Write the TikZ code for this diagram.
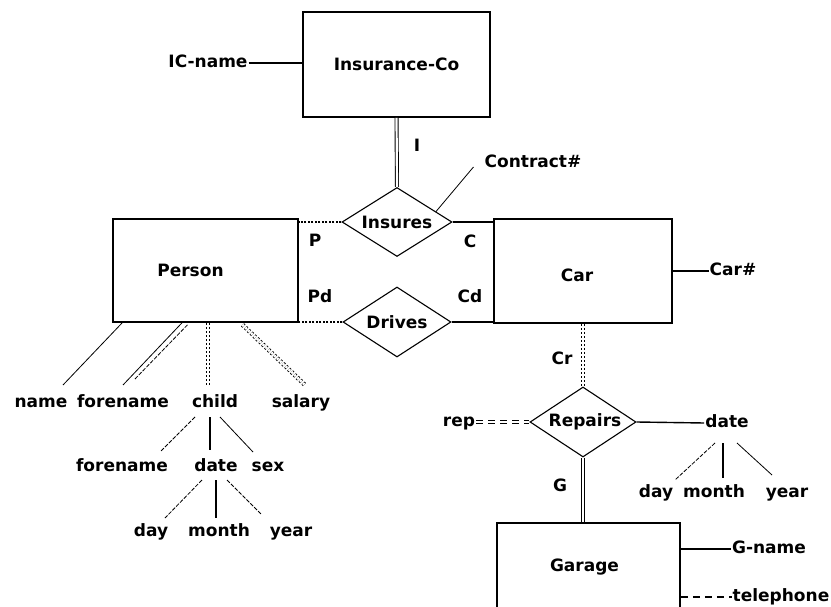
\documentclass[tikz,border=0pt]{standalone}
\usepackage{fontspec}
\setmainfont{DejaVu Sans}
\usetikzlibrary{shapes.geometric}
\begin{document}
\begin{tikzpicture}[x=1pt,y=-1pt,
  every node/.style={font=\fontsize{17}{20}\selectfont\bfseries},
  entity/.style={draw, line width=1.6pt, rectangle, inner sep=0pt},
  relation/.style={draw, diamond, line width=1.1pt, inner sep=0pt},
  attr/.style={inner sep=1pt, text height=12.5pt, text depth=3.5pt},
  conn/.style={line width=1.4pt},
  fine/.style={line width=0.8pt},
  fined/.style={line width=0.8pt, dash pattern=on 4pt off 1.5pt},
  dotline/.style={line width=1.4pt, dash pattern=on 2pt off 1.5pt},
  twin/.style={double, double distance=2.2pt, line width=0.9pt},
  twindot/.style={double, double distance=2.5pt, line width=0.9pt, dash pattern=on 2pt off 2pt},
  twindash/.style={double, double distance=2.5pt, line width=0.9pt, dash pattern=on 7pt off 5pt},
]
\useasboundingbox (0,0) rectangle (831,607);
\clip (0,0) rectangle (831,607);

% entities
\node[entity, minimum width=187pt, minimum height=105pt] (ins) at (396.5,64.5) {Insurance-Co};
\node[entity, minimum width=185pt, minimum height=103pt,
      label={[xshift=-15pt]center:Person}] (person) at (205.5,270.5) {};
\node[entity, minimum width=178pt, minimum height=104pt,
      label={[xshift=-6pt,yshift=-4pt]center:Car}] (car) at (583,271) {};
\node[entity, minimum width=183pt, minimum height=96pt,
      label={[xshift=-4pt,yshift=4pt]center:Garage}] (garage) at (588.5,571) {};

% relationships
\node[relation, minimum width=110pt, minimum height=69pt, label=center:Insures] (insures) at (397,222) {};
\node[relation, minimum width=108pt, minimum height=70pt, label=center:Drives] (drives) at (397,322) {};
\node[relation, minimum width=106pt, minimum height=70pt,
      label={[xshift=2pt]center:Repairs}] (repairs) at (583,422) {};

% Insurance-Co
\node[attr] (icname) at (208,63) {IC-name};
\draw[conn] (icname.east) -- (icname.east -| ins.west);
\draw[twin] (ins.south) -- (insures.north);
\node[attr] (lblI) at (417,147) {I};

% Insures and Drives
\draw[dotline] (insures.west) -- (insures.west -| person.east);
\draw[conn] (insures.east) -- (insures.east -| car.west);
\draw[dotline] (drives.west) -- (drives.west -| person.east);
\draw[conn] (drives.east) -- (drives.east -| car.west);
\node[attr] (lblP) at (315,242) {P};
\node[attr] (lblC) at (470,243) {C};
\node[attr] (lblPd) at (320,298) {Pd};
\node[attr] (lblCd) at (470,298) {Cd};

\node[attr] (contract) at (533,163) {Contract\#};
\draw[fine] (insures.15) -- ([xshift=-10pt,yshift=-4pt]contract.west);

% Car
\node[attr] (carnum) at (733,271) {Car\#};
\draw[conn] (car.east) -- (carnum.west);

% Person attributes
\node[attr] (name) at (41,403) {name};
\node[attr] (forename) at (123,403) {forename};
\node[attr] (child) at (215,403) {child};
\node[attr] (salary) at (301,403) {salary};
\draw[fine] ([xshift=10pt]person.south west) -- ([xshift=22pt,yshift=18pt]name.center);
\draw[fine] ([xshift=-23.5pt]person.south) -- ([yshift=18pt]forename.center);
\draw[fined] ([xshift=-18pt,yshift=-2pt]person.south) -- ([xshift=11pt,yshift=23pt]forename.center);
\draw[twindot] ([xshift=2.5pt]person.south) -- ([xshift=-7pt,yshift=18pt]child.center);
\draw[twindot] ([xshift=37pt,yshift=-2pt]person.south) -- ([xshift=4pt,yshift=18pt]salary.center);

% child attributes
\node[attr] (forename2) at (122,467) {forename};
\node[attr] (date1) at (216,467) {date};
\node[attr] (sex) at (268,467) {sex};
\draw[fined] ([xshift=-20pt,yshift=-14pt]child.center) -- ([xshift=38pt,yshift=15pt]forename2.center);
\draw[conn] ([xshift=-5pt,yshift=-14pt]child.center) -- ([xshift=-6pt,yshift=17pt]date1.center);
\draw[fine] ([xshift=5pt,yshift=-14pt]child.center) -- ([xshift=-15pt,yshift=15pt]sex.center);

% date attributes
\node[attr] (day1) at (151,532) {day};
\node[attr] (month1) at (219,532) {month};
\node[attr] (year1) at (291,532) {year};
\draw[fined] ([xshift=-14pt,yshift=-13pt]date1.center) -- ([xshift=14pt,yshift=14pt]day1.center);
\draw[conn] ([yshift=-13pt]date1.center) -- ([xshift=-3pt,yshift=14pt]month1.center);
\draw[fined] ([xshift=11pt,yshift=-13pt]date1.center) -- ([xshift=-29pt,yshift=17pt]year1.center);

% Repairs
\draw[twindot] (car.south) -- (repairs.north);
\node[attr] (lblCr) at (562,360) {Cr};
\node[attr] (rep) at (459,422) {rep};
\draw[twindash] (rep.east) -- (repairs.west);
\node[attr] (date2) at (727,423) {date};
\draw[conn] (repairs.east) -- (date2.west);
\draw[twin] (repairs.south) -- (repairs.south |- garage.north);
\node[attr] (lblG) at (560,487) {G};

\node[attr] (day2) at (656,493) {day};
\node[attr] (month2) at (714,493) {month};
\node[attr] (year2) at (787,493) {year};
\draw[fined] ([xshift=-12pt,yshift=-20pt]date2.center) -- ([xshift=19pt,yshift=13pt]day2.center);
\draw[conn] ([xshift=-4pt,yshift=-20pt]date2.center) -- ([xshift=9pt,yshift=15pt]month2.center);
\draw[fine] ([xshift=10pt,yshift=-20pt]date2.center) -- ([xshift=-15pt,yshift=18pt]year2.center);

% Garage
\node[attr] (gname) at (769,549) {G-name};
\node[attr] (tel) at (781,597) {telephone};
\draw[conn] (gname.west -| garage.east) -- (gname.west);
\draw[conn, dash pattern=on 7pt off 5pt] (tel.west -| garage.east) -- (tel.west);
\end{tikzpicture}
\end{document}
